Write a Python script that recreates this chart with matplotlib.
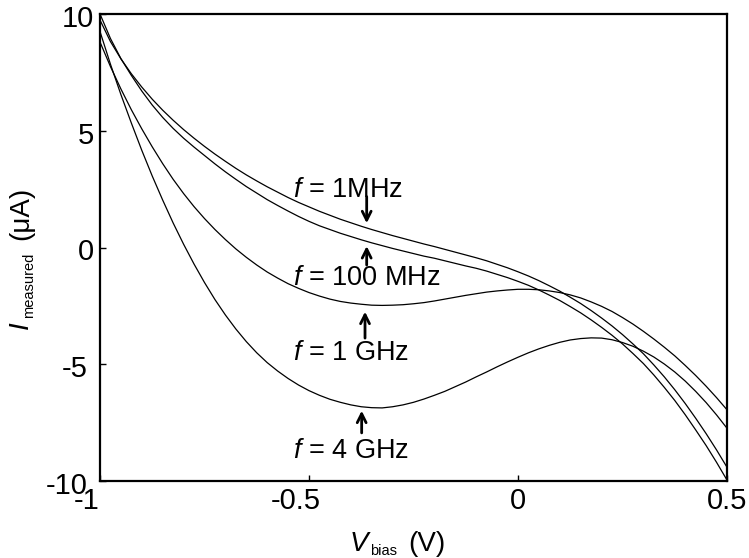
import matplotlib
matplotlib.use("Agg")
import matplotlib.pyplot as plt
from matplotlib.transforms import offset_copy

plt.rcParams['font.family'] = ['Liberation Sans', 'DejaVu Sans']
plt.rcParams['mathtext.fontset'] = 'custom'
plt.rcParams['mathtext.rm'] = 'Liberation Sans'
plt.rcParams['mathtext.it'] = 'Liberation Sans:italic'

W, H = 749, 558

# Bias voltage samples (V)
v_bias = [-1.0, -0.975, -0.95, -0.925, -0.9, -0.875, -0.85, -0.825, -0.8, -0.775,
          -0.75, -0.725, -0.7, -0.675, -0.65, -0.625, -0.6, -0.575, -0.55, -0.525,
          -0.5, -0.475, -0.45, -0.425, -0.4, -0.375, -0.35, -0.325, -0.3, -0.275,
          -0.25, -0.225, -0.2, -0.175, -0.15, -0.125, -0.1, -0.075, -0.05, -0.025,
          0.0, 0.025, 0.05, 0.075, 0.1, 0.125, 0.15, 0.175, 0.2, 0.225,
          0.25, 0.275, 0.3, 0.325, 0.35, 0.375, 0.4, 0.425, 0.45, 0.475, 0.5]

# Measured current (uA) for each drive frequency
i_1mhz = [9.74, 8.82, 8.08, 7.44, 6.87, 6.35, 5.88, 5.45, 5.05, 4.68,
          4.33, 4.00, 3.69, 3.39, 3.11, 2.85, 2.60, 2.37, 2.14, 1.93,
          1.74, 1.55, 1.38, 1.21, 1.06, 0.91, 0.77, 0.64, 0.51, 0.39,
          0.27, 0.15, 0.04, -0.08, -0.20, -0.32, -0.44, -0.57, -0.72, -0.87,
          -1.04, -1.22, -1.42, -1.64, -1.87, -2.13, -2.40, -2.70, -3.02, -3.36,
          -3.73, -4.13, -4.55, -5.03, -5.54, -6.09, -6.68, -7.31, -7.97, -8.67, -9.41]
i_100mhz = [10.0, 8.95, 8.09, 7.37, 6.70, 6.10, 5.57, 5.10, 4.68, 4.30,
            3.94, 3.58, 3.24, 2.92, 2.61, 2.33, 2.05, 1.80, 1.56, 1.33,
            1.12, 0.93, 0.77, 0.61, 0.47, 0.33, 0.20, 0.08, -0.04, -0.15,
            -0.26, -0.37, -0.46, -0.57, -0.68, -0.79, -0.89, -1.01, -1.15, -1.29,
            -1.45, -1.62, -1.82, -2.04, -2.27, -2.53, -2.80, -3.10, -3.42, -3.76,
            -4.13, -4.54, -4.97, -5.46, -5.99, -6.55, -7.16, -7.81, -8.48, -9.20, -9.96]
i_1ghz = [8.80, 7.75, 6.79, 5.90, 5.08, 4.31, 3.59, 2.92, 2.31, 1.75,
          1.24, 0.77, 0.34, -0.06, -0.42, -0.75, -1.05, -1.31, -1.55, -1.75,
          -1.93, -2.08, -2.21, -2.31, -2.38, -2.43, -2.47, -2.48, -2.47, -2.45,
          -2.41, -2.36, -2.29, -2.21, -2.13, -2.05, -1.98, -1.91, -1.86, -1.82,
          -1.79, -1.79, -1.81, -1.86, -1.93, -2.03, -2.16, -2.33, -2.52, -2.74,
          -3.00, -3.28, -3.59, -3.92, -4.27, -4.64, -5.05, -5.48, -5.94, -6.43, -6.95]
i_4ghz = [9.25, 7.85, 6.55, 5.33, 4.16, 3.06, 2.03, 1.05, 0.14, -0.71,
          -1.50, -2.23, -2.89, -3.49, -4.03, -4.51, -4.93, -5.29, -5.61, -5.89,
          -6.13, -6.33, -6.50, -6.63, -6.74, -6.82, -6.86, -6.87, -6.82, -6.74,
          -6.63, -6.49, -6.33, -6.16, -5.96, -5.76, -5.54, -5.33, -5.11, -4.90,
          -4.70, -4.51, -4.34, -4.19, -4.06, -3.96, -3.90, -3.87, -3.88, -3.95,
          -4.07, -4.23, -4.44, -4.69, -4.99, -5.33, -5.72, -6.16, -6.64, -7.17, -7.74]

x_ticks = [-1, -0.5, 0, 0.5]
x_tick_labels = ['-1', '-0.5', '0', '0.5']
y_ticks = [-10, -5, 0, 5, 10]
y_tick_labels = ['-10', '-5', '0', '5', '10']

fig = plt.figure(figsize=(W / 100, H / 100), dpi=100)
ax = fig.add_axes([100 / W, 1 - 481 / H, 627 / W, 467 / H])

for series in (i_1mhz, i_100mhz, i_1ghz, i_4ghz):
    ax.plot(v_bias, series, color='black', lw=0.9)

ax.set_xlim(-1, 0.5)
ax.set_ylim(-10, 10)
ax.set_xticks(x_ticks)
ax.set_xticklabels(x_tick_labels)
ax.set_yticks(y_ticks)
ax.set_yticklabels(y_tick_labels)
ax.tick_params(direction='in', length=4, width=1, labelsize=21, pad=4,
               top=False, right=False)
for sp in ax.spines.values():
    sp.set_linewidth(1.6)

# negative tick labels sit a little to the left of their ticks
for lab in ax.get_xticklabels():
    dx = -13 if lab.get_text().startswith('-') else 0
    lab.set_transform(offset_copy(lab.get_transform(), fig=fig, x=dx, y=0, units='dots'))
for lab in ax.get_yticklabels():
    dx = -7 if lab.get_text().startswith('-') else 0
    lab.set_transform(offset_copy(lab.get_transform(), fig=fig, x=dx, y=-2, units='dots'))


def put(text, px, py, size, style='normal', ha='left', rotation=0):
    fig.text(px / W, 1 - py / H, text, fontsize=size, style=style, ha=ha,
             va='baseline', rotation=rotation, rotation_mode='anchor')


# x axis label: V_bias (V)
put('V', 350, 551, 20, style='italic')
put('bias', 370, 555, 10.5)
put('(V)', 445, 551, 20, ha='right')

# y axis label: I_measured (uA), reading bottom to top
put('I', 28, 329, 20, style='italic', rotation=90)
put('measured', 33, 318, 10.5, rotation=90)
put('(\u03bcA)', 28, 187, 20, ha='right', rotation=90)

# Frequency labels with arrows pointing at their curves
labels = [
    (r'$\mathit{f}$ = 1MHz', 2.16, (-0.362, 2.18), (-0.362, 1.04)),
    (r'$\mathit{f}$ = 100 MHz', -1.61, (-0.362, -0.75), (-0.362, 0.06)),
    (r'$\mathit{f}$ = 1 GHz', -4.82, (-0.366, -3.88), (-0.366, -2.75)),
    (r'$\mathit{f}$ = 4 GHz', -9.02, (-0.374, -7.94), (-0.374, -6.99)),
]
for text, base, tail, tip in labels:
    ax.text(-0.538, base, text, fontsize=19.5, ha='left', va='baseline')
    ax.annotate('', xy=tip, xytext=tail,
                arrowprops=dict(arrowstyle='->', lw=2, color='black',
                                mutation_scale=16, shrinkA=0, shrinkB=0))

fig.savefig('out.png', dpi=100)
